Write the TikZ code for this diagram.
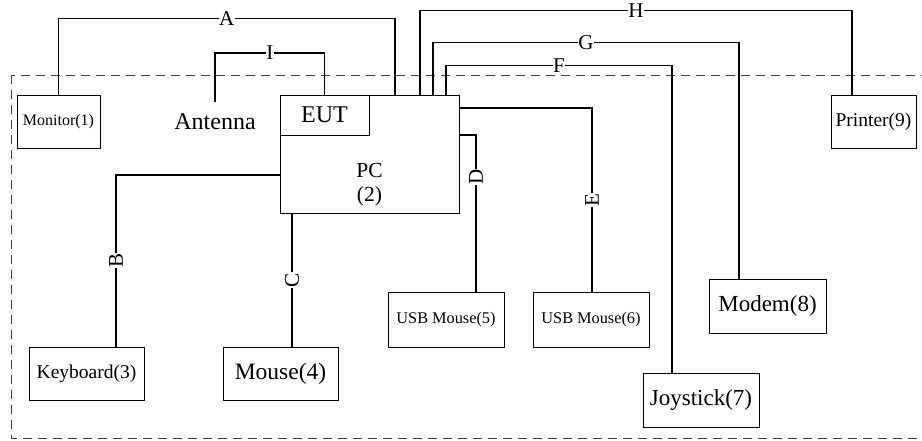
\documentclass[tikz,border=0pt]{standalone}
\usepackage{fontspec}
\setmainfont{Liberation Serif}
\usetikzlibrary{calc}
\newcommand{\sz}[1]{\fontsize{#1}{24}\selectfont}
\tikzset{
  unit/.style={draw=black, line width=0.8pt, inner sep=0pt, align=center},
  wire/.style={line width=1.5pt},
  tag/.style={fill=white, inner sep=0.6pt, font=\sz{21}},
  vtag/.style={tag, rotate=90},
  frame/.style={draw=black!75, line width=0.9pt, dash pattern=on 9pt off 6pt}
}
\begin{document}
\begin{tikzpicture}[x=1pt, y=-1pt]
\useasboundingbox (0,0) rectangle (922,441);
\clip (0,0) rectangle (922,441);
\draw[frame] (11,75) rectangle (940,438);
% devices
\node[unit, minimum width=179pt, minimum height=118pt] (pc) at (369.5,154) {};
\node[unit, minimum width=89pt, minimum height=40pt, font=\sz{24}] (eut) at (324.5,115) {EUT};
\node[anchor=north, inner sep=0pt, align=center, font=\sz{21.5}] (pctext) at (369.5,163) {PC\\(2)};
\node[unit, minimum width=83pt, minimum height=53pt, font=\sz{16}] (monitor) at (58.5,121.5) {Monitor(1)};
\node[anchor=base, inner xsep=0pt, inner ysep=12pt, font=\sz{24}] (antenna) at (215,130) {Antenna};
\node[unit, minimum width=85pt, minimum height=53pt, font=\sz{19.5}] (printer) at (873.5,121.5) {Printer(9)};
\node[unit, minimum width=115pt, minimum height=53pt, font=\sz{19.5}] (keyboard) at (86.5,373.5) {Keyboard(3)};
\node[unit, minimum width=115pt, minimum height=53pt, font=\sz{23.5}] (mouse) at (280.5,373.5) {Mouse(4)};
\node[unit, minimum width=116pt, minimum height=55pt, font=\sz{16.3}] (usba) at (446,319.5) {USB Mouse(5)};
\node[unit, minimum width=116pt, minimum height=55pt, font=\sz{16.3}] (usbb) at (591,319.5) {USB Mouse(6)};
\node[unit, minimum width=116pt, minimum height=54pt, font=\sz{23}] (joystick) at (701,400) {Joystick(7)};
\node[unit, minimum width=117pt, minimum height=54pt, font=\sz{23}] (modem) at (767.5,306) {Modem(8)};
% ports on top of the PC
\coordinate (pA) at ([xshift=25.5pt]pc.north);
\coordinate (pH) at ([xshift=50.5pt]pc.north);
\coordinate (pG) at ([xshift=63.5pt]pc.north);
\coordinate (pF) at ([xshift=76.5pt]pc.north);
% cables
\draw[wire] (monitor.north) -- ++(0,-76) -| node[tag, pos=0.25] {A} (pA);
\draw[wire] (antenna.north) -- ++(0,-49) -| node[tag, pos=0.25] {I} (eut.north);
\draw[wire] (pH) -- ++(0,-84) -| node[tag, pos=0.25] {H} ([xshift=-21.5pt]printer.north);
\draw[wire] (pG) -- ++(0,-52) -| node[tag, pos=0.25] {G} ([xshift=-28.5pt]modem.north);
\draw[wire] (pF) -- ++(0,-29) -| node[tag, pos=0.25] {F} ([xshift=-29pt]joystick.north);
\draw[wire] ([yshift=-21pt]pc.west) -| node[vtag, pos=0.75] {B} ([xshift=29.5pt]keyboard.north);
\draw[wire] ([xshift=-77.5pt]pc.south) -- node[vtag] {C} ([xshift=11.5pt]mouse.north);
\draw[wire] ([yshift=19pt]pc.east) -| node[vtag, pos=0.634] {D} ([xshift=30pt]usba.north);
\draw[wire] ([yshift=46pt]pc.east) -| node[vtag, pos=0.75] {E} ([xshift=1pt]usbb.north);
\end{tikzpicture}
\end{document}
